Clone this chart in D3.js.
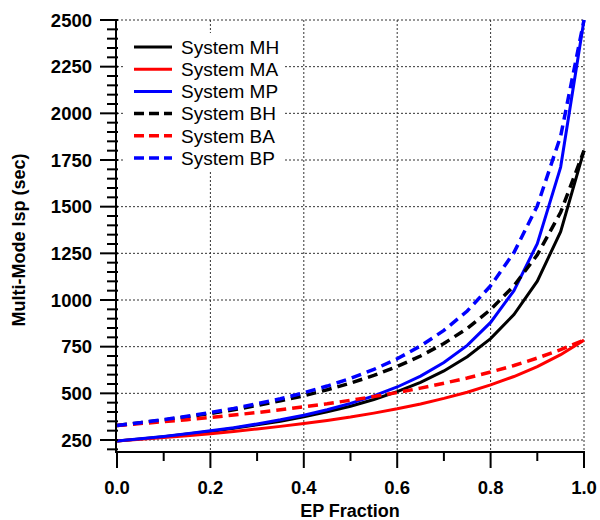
<!DOCTYPE html>
<html>
<head>
<meta charset="utf-8">
<script src="https://cdn.jsdelivr.net/npm/d3@7"></script>
<style>
  body { margin: 0; background: #fff; }
  svg { font-family: "Liberation Sans", Arial, sans-serif; }
</style>
</head>
<body>
<script>
// EP fraction sample points
var fractions = [0, 0.05, 0.1, 0.15, 0.2, 0.25, 0.3, 0.35, 0.4, 0.45, 0.5,
                 0.55, 0.6, 0.65, 0.7, 0.75, 0.8, 0.85, 0.9, 0.95, 1.0];

// Multi-mode Isp (sec)
var systemMH = [245, 256, 268, 282, 296, 313, 331, 351, 374, 401, 431,
                467, 509, 559, 620, 696, 793, 922, 1101, 1366, 1800];
var systemMA = [245, 254, 263, 273, 284, 296, 309, 323, 338, 355, 373,
                394, 417, 443, 473, 506, 545, 590, 643, 707, 785];
var systemMP = [245, 257, 269, 283, 299, 316, 336, 358, 383, 412, 446,
                486, 534, 592, 665, 757, 880, 1050, 1302, 1712, 2500];
var systemBH = [328, 342, 357, 374, 392, 412, 435, 460, 487, 519, 555,
                596, 644, 700, 767, 848, 949, 1076, 1242, 1470, 1800];
var systemBA = [328, 338, 348, 359, 371, 384, 397, 412, 428, 444, 463,
                483, 504, 528, 554, 582, 614, 649, 689, 734, 785];
var systemBP = [328, 343, 359, 377, 397, 419, 444, 471, 503, 539, 580,
                628, 685, 754, 837, 941, 1076, 1254, 1504, 1878, 2500];

var seriesNames = ["System MH", "System MA", "System MP", "System BH", "System BA", "System BP"];
var seriesValues = [systemMH, systemMA, systemMP, systemBH, systemBA, systemBP];
var seriesColors = ["#000000", "#ff0000", "#0000ff", "#000000", "#ff0000", "#0000ff"];
var seriesDashed = [false, false, false, true, true, true];

var yTicks = [250, 500, 750, 1000, 1250, 1500, 1750, 2000, 2250, 2500];
var yMinorTicks = [200, 300, 350, 400, 450, 550, 600, 650, 700, 800, 850, 900, 950,
                   1050, 1100, 1150, 1200, 1300, 1350, 1400, 1450, 1550, 1600, 1650, 1700,
                   1800, 1850, 1900, 1950, 2050, 2100, 2150, 2200, 2300, 2350, 2400, 2450];
var xTicks = [0, 0.2, 0.4, 0.6, 0.8, 1.0];
var xMinorTicks = [0.1, 0.3, 0.5, 0.7, 0.9];

// Plot geometry
var width = 600, height = 520;
var plotLeft = 117, plotRight = 584, plotTop = 20, plotBottom = 452;

var svg = d3.select("body").append("svg")
    .attr("width", width)
    .attr("height", height);

// Scales: 250 sits at y=440, 2500 at y=20; axis runs a bit below 250
var x = d3.scaleLinear().domain([0, 1]).range([plotLeft, plotRight]);
var y = d3.scaleLinear().domain([250, 2500]).range([440, plotTop]);

// Gridlines
var grid = svg.append("g").attr("class", "grid");
grid.selectAll("line.h")
    .data(yTicks)
    .enter().append("line")
        .attr("x1", plotLeft).attr("x2", plotRight)
        .attr("y1", d => y(d)).attr("y2", d => y(d))
        .attr("stroke", "#333").attr("stroke-width", 1)
        .attr("stroke-dasharray", "2,2");
grid.selectAll("line.v")
    .data(xTicks.slice(1))
    .enter().append("line")
        .attr("x1", d => x(d)).attr("x2", d => x(d))
        .attr("y1", plotTop).attr("y2", plotBottom)
        .attr("stroke", "#333").attr("stroke-width", 1)
        .attr("stroke-dasharray", "2,2");

// Legend background (hides the grid behind it)
svg.append("rect")
    .attr("x", 124).attr("y", 33)
    .attr("width", 159).attr("height", 137)
    .attr("fill", "#fff");

// Lines
var line = d3.line()
    .x((d, i) => x(fractions[i]))
    .y(d => y(d));

svg.append("g")
    .selectAll("path")
    .data(seriesValues)
    .enter().append("path")
        .attr("d", d => line(d))
        .attr("fill", "none")
        .attr("stroke", (d, i) => seriesColors[i])
        .attr("stroke-width", (d, i) => seriesDashed[i] ? 3.5 : 3)
        .attr("stroke-dasharray", (d, i) => seriesDashed[i] ? "10,6" : null);

// Y axis
var yAxisG = svg.append("g")
    .attr("transform", "translate(" + (plotLeft - 1) + ",0)");
yAxisG.append("line")
    .attr("x1", 0).attr("x2", 0)
    .attr("y1", plotTop).attr("y2", plotBottom)
    .attr("stroke", "#000").attr("stroke-width", 2);
yAxisG.selectAll("line.minor")
    .data(yMinorTicks)
    .enter().append("line")
        .attr("x1", -9).attr("x2", 2)
        .attr("y1", d => y(d)).attr("y2", d => y(d))
        .attr("stroke", "#000").attr("stroke-width", 2);
yAxisG.selectAll("line.major")
    .data(yTicks)
    .enter().append("line")
        .attr("x1", -16).attr("x2", 2)
        .attr("y1", d => y(d)).attr("y2", d => y(d))
        .attr("stroke", "#000").attr("stroke-width", 2);
yAxisG.selectAll("text")
    .data(yTicks)
    .enter().append("text")
        .attr("x", -24)
        .attr("y", d => y(d))
        .attr("dy", "0.36em")
        .attr("text-anchor", "end")
        .attr("font-size", 18.5)
        .attr("font-weight", "bold")
        .text(d => d);

// X axis
var xAxisG = svg.append("g")
    .attr("transform", "translate(0," + plotBottom + ")");
xAxisG.append("line")
    .attr("x1", plotLeft - 2).attr("x2", plotRight + 1)
    .attr("y1", 0).attr("y2", 0)
    .attr("stroke", "#000").attr("stroke-width", 2);
xAxisG.selectAll("line.minor")
    .data(xMinorTicks)
    .enter().append("line")
        .attr("x1", d => x(d)).attr("x2", d => x(d))
        .attr("y1", 0).attr("y2", 9)
        .attr("stroke", "#000").attr("stroke-width", 2);
xAxisG.selectAll("line.major")
    .data(xTicks)
    .enter().append("line")
        .attr("x1", d => x(d)).attr("x2", d => x(d))
        .attr("y1", 0).attr("y2", 16)
        .attr("stroke", "#000").attr("stroke-width", 2);
xAxisG.selectAll("text")
    .data(xTicks)
    .enter().append("text")
        .attr("x", d => x(d))
        .attr("y", 42)
        .attr("text-anchor", "middle")
        .attr("font-size", 18.5)
        .attr("font-weight", "bold")
        .text(d => d.toFixed(1));

// Axis titles
svg.append("text")
    .attr("x", 350)
    .attr("y", 517)
    .attr("text-anchor", "middle")
    .attr("font-size", 18)
    .attr("font-weight", "bold")
    .text("EP Fraction");

svg.append("text")
    .attr("transform", "translate(25,240) rotate(-90)")
    .attr("text-anchor", "middle")
    .attr("font-size", 18)
    .attr("font-weight", "bold")
    .text("Multi-Mode Isp (sec)");

// Legend
var legend = svg.append("g")
    .selectAll("g")
    .data(seriesNames)
    .enter().append("g")
        .attr("transform", (d, i) => "translate(0," + (47 + i * 22.2) + ")");
legend.append("line")
    .attr("x1", 134).attr("x2", 172)
    .attr("y1", 0).attr("y2", 0)
    .attr("stroke", (d, i) => seriesColors[i])
    .attr("stroke-width", (d, i) => seriesDashed[i] ? 3.5 : 3)
    .attr("stroke-dasharray", (d, i) => seriesDashed[i] ? "10,5" : null);
legend.append("text")
    .attr("x", 181)
    .attr("y", 0)
    .attr("dy", "0.36em")
    .attr("font-size", 19)
    .text(d => d);
</script>
</body>
</html>
